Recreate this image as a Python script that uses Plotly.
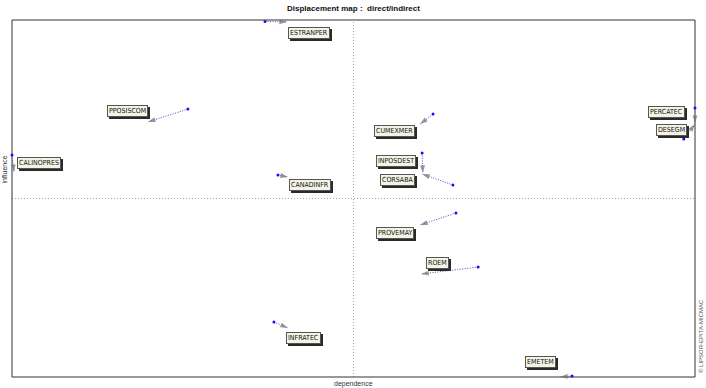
import plotly.graph_objects as go

# Variables: start (direct) and end (indirect) positions, dependence (x) / influence (y)
names = ["ESTRANPER", "PPOSISCOM", "CALINOPRES", "CANADINFR", "CUMEXMER", "INPOSDEST",
         "CORSABA", "PERCATEC", "DESEGM", "PROVEMAY", "ROEM", "INFRATEC", "EMETEM"]
x_start = [-0.259, -0.485, -1.000, -0.221, 0.233, 0.201, 0.291, 1.000, 0.967, 0.300, 0.365, -0.233, 0.640]
y_start = [0.992, 0.501, 0.244, 0.132, 0.473, 0.255, 0.076, 0.507, 0.333, -0.081, -0.384, -0.692, -0.994]
x_end = [-0.195, -0.602, -0.994, -0.192, 0.195, 0.203, 0.201, 1.000, 1.000, 0.195, 0.198, -0.192, 0.605]
y_end = [0.989, 0.429, 0.148, 0.120, 0.417, 0.143, 0.137, 0.423, 0.417, -0.149, -0.423, -0.725, -1.000]

# label placement (layout only): xanchor, yanchor, xshift, yshift
label_pos = [("left", "top", 1, -5), ("right", "bottom", 0, 5), ("left", "bottom", 3, 3),
             ("left", "top", 1, -2), ("right", "top", -5, -1), ("right", "bottom", -7, 6),
             ("right", "top", -7, 0), ("right", "bottom", -10, 5), ("right", "top", -8, 0),
             ("right", "top", -6, -2), ("left", "bottom", 5, 5), ("left", "top", -2, -4),
             ("right", "bottom", -4, 9)]

FONT = "Liberation Sans Narrow, Arial Narrow, DejaVu Sans Condensed, sans-serif"

fig = go.Figure()
annotations = []
for i, n in enumerate(names):
    # dotted displacement line
    fig.add_trace(go.Scatter(
        x=[x_start[i], x_end[i]], y=[y_start[i], y_end[i]],
        mode="lines",
        line=dict(color="#4848d8", width=1, dash="1px,1.5px"),
        showlegend=False, hoverinfo="skip", cliponaxis=False))
    # start point (direct)
    fig.add_trace(go.Scatter(
        x=[x_start[i]], y=[y_start[i]], mode="markers",
        marker=dict(symbol="circle", size=3, color="#1010ff", line=dict(width=0)),
        showlegend=False, hoverinfo="text", text=n, cliponaxis=False))
    # arrow head at end point (indirect)
    fig.add_trace(go.Scatter(
        x=[x_start[i], x_end[i]], y=[y_start[i], y_end[i]], mode="markers",
        marker=dict(symbol="arrow", size=[0, 8], color="#707070", angleref="previous",
                    line=dict(width=0)),
        showlegend=False, hoverinfo="text", text=n, cliponaxis=False))
    xa, ya, xs, ys = label_pos[i]
    common = dict(x=x_end[i], y=y_end[i], xref="x", yref="y", text=n, showarrow=False,
                  xanchor=xa, yanchor=ya, borderpad=1, borderwidth=1)
    # drop shadow of the label box
    annotations.append(dict(common, xshift=xs + 2, yshift=ys - 2, bgcolor="#2a2a2a",
                            bordercolor="#2a2a2a",
                            font=dict(family=FONT, size=7, color="#2a2a2a")))
    annotations.append(dict(common, xshift=xs, yshift=ys, bgcolor="#f4f4e6",
                            bordercolor="#555555",
                            font=dict(family=FONT, size=7, color="#111111")))

annotations.append(dict(x=0.5, y=1, xref="paper", yref="paper", yanchor="bottom", yshift=5,
                        text="<b>Displacement map :  direct/indirect</b>", showarrow=False,
                        font=dict(family="Arial, Liberation Sans, sans-serif", size=8, color="#111")))
annotations.append(dict(x=0.5, y=0, xref="paper", yref="paper", yanchor="top", yshift=-1,
                        text="dependence", showarrow=False,
                        font=dict(family="Arial, Liberation Sans, sans-serif", size=7, color="#333")))
annotations.append(dict(x=0, y=0.58, xref="paper", yref="paper", xanchor="right", xshift=-2,
                        text="influence", showarrow=False, textangle=-90,
                        font=dict(family="Arial, Liberation Sans, sans-serif", size=7, color="#333")))
annotations.append(dict(x=1, y=0.0, xref="paper", yref="paper", xanchor="left", yanchor="bottom",
                        xshift=1, yshift=2,
                        text="© LIPSOR-EPITA-MICMAC", showarrow=False, textangle=-90,
                        font=dict(family="Arial, Liberation Sans, sans-serif", size=6, color="#555")))

fig.update_layout(
    width=706, height=388,
    margin=dict(l=12, r=11, t=20, b=11),
    paper_bgcolor="white", plot_bgcolor="white",
    xaxis=dict(range=[-1, 1], showgrid=False, zeroline=False, showticklabels=False, ticks="",
               fixedrange=True),
    yaxis=dict(range=[-1, 1], showgrid=False, zeroline=False, showticklabels=False, ticks="",
               fixedrange=True),
    annotations=annotations,
    shapes=[
        dict(type="line", xref="x", yref="paper", x0=0, x1=0, y0=0, y1=1,
             line=dict(color="#aaaaaa", width=1, dash="1px,2px"), layer="below"),
        dict(type="line", xref="paper", yref="y", x0=0, x1=1, y0=0, y1=0,
             line=dict(color="#aaaaaa", width=1, dash="1px,2px"), layer="below"),
        dict(type="rect", xref="paper", yref="paper", x0=0, x1=1, y0=0, y1=1,
             line=dict(color="#333333", width=1), layer="below"),
    ],
)

fig.write_html("out.html")
